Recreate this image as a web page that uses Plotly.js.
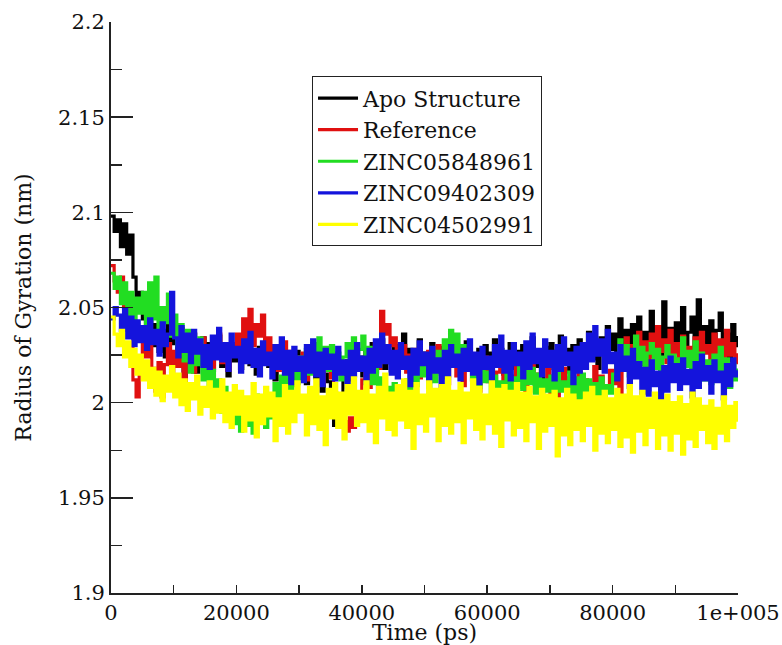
<!DOCTYPE html>
<html>
<head>
<meta charset="utf-8">
<script src="https://cdn.plot.ly/plotly-3.0.1.min.js"></script>
<style>html,body{margin:0;padding:0;background:#fff;}#chart{width:782px;height:645px;}</style>
</head>
<body>
<div id="chart"></div>
<script>
// sampling of the time axis (ps)
const T0 = 0;
const DT = 500;

const seriesNames = ["Apo Structure", "Reference", "ZINC05848961", "ZINC09402309", "ZINC04502991"];

const apo = [
2.098,2.090,2.096,2.082,2.094,2.078,2.088,2.066,2.052,2.058,
2.044,2.036,2.048,2.030,2.041,2.027,2.038,2.024,2.045,2.031,
2.033,2.022,2.039,2.002,2.030,2.025,2.036,2.016,2.028,2.034,
2.021,2.031,2.017,2.027,2.035,2.019,2.026,2.014,2.029,2.022,
2.030,2.018,2.027,2.033,2.020,2.025,2.015,2.029,2.023,2.031,
2.019,2.026,2.012,2.024,2.030,2.017,2.022,2.009,2.021,2.027,
2.016,2.023,2.010,2.019,2.026,2.013,2.020,2.006,2.015,2.011,
1.996,1.988,1.992,2.004,2.015,2.022,2.012,2.026,2.018,2.024,
2.014,2.027,2.019,2.031,2.016,2.024,2.033,2.018,2.026,2.021,
2.030,2.017,2.025,2.036,2.020,2.028,2.014,2.027,2.033,2.019,
2.026,2.015,2.031,2.022,2.018,2.029,2.013,2.025,2.034,2.020,
2.027,2.016,2.023,2.032,2.019,2.025,2.012,2.028,2.021,2.030,
2.017,2.026,2.033,2.020,2.028,2.015,2.024,2.031,2.018,2.027,
2.022,2.030,2.016,2.026,2.034,2.019,2.025,2.013,2.029,2.023,
2.031,2.018,2.027,2.035,2.021,2.028,2.016,2.030,2.024,2.033,
2.020,2.029,2.037,2.023,2.031,2.018,2.034,2.026,2.040,2.028,
2.036,2.025,2.044,2.030,2.038,2.027,2.041,2.032,2.045,2.029,
2.037,2.026,2.048,2.031,2.040,2.024,2.053,2.033,2.039,2.027,
2.042,2.030,2.050,2.028,2.037,2.045,2.026,2.054,2.032,2.040,
2.029,2.043,2.025,2.038,2.047,2.027,2.036,2.022,2.041,2.030,
2.035];

const reference = [
2.072,2.064,2.058,2.066,2.050,2.055,2.040,2.012,2.003,2.020,
2.032,2.024,2.035,2.018,2.006,2.021,2.003,2.020,2.031,2.016,
2.027,2.019,2.033,2.012,2.025,2.030,2.016,2.028,2.021,2.034,
2.023,2.030,2.018,2.027,2.036,2.021,2.029,2.017,2.031,2.025,
2.036,2.028,2.044,2.033,2.049,2.030,2.041,2.035,2.046,2.027,
2.034,2.021,2.030,2.017,2.026,2.032,2.019,2.027,2.014,2.024,
2.018,2.026,2.012,2.021,2.029,2.015,2.023,2.010,2.019,2.024,
2.013,2.005,1.996,2.002,1.990,1.985,1.992,1.987,1.995,2.003,
2.012,2.020,2.008,2.025,2.031,2.018,2.048,2.036,2.041,2.030,
2.034,2.028,2.021,2.030,2.016,2.025,2.019,2.028,2.013,2.022,
2.018,2.027,2.012,2.022,2.030,2.015,2.024,2.010,2.021,2.027,
2.014,2.023,2.009,2.019,2.026,2.012,2.020,2.006,2.017,2.024,
2.011,2.019,2.005,2.016,2.022,2.009,2.018,2.003,2.014,2.020,
2.008,2.017,2.002,2.013,2.021,2.006,2.015,2.000,2.011,2.018,
2.005,2.014,1.999,2.011,2.018,2.003,2.013,1.997,2.009,2.016,
2.004,2.012,1.998,2.010,2.019,2.002,2.014,1.996,2.008,2.017,
2.010,2.021,2.005,2.026,2.034,2.018,2.030,2.022,2.037,2.025,
2.032,2.019,2.036,2.024,2.040,2.027,2.033,2.021,2.038,2.026,
2.031,2.020,2.035,2.025,2.029,2.018,2.034,2.023,2.037,2.026,
2.030,2.019,2.036,2.024,2.033,2.020,2.038,2.025,2.031,2.021,
2.026];

const zinc05848961 = [
2.068,2.060,2.066,2.052,2.063,2.045,2.058,2.040,2.055,2.047,
2.058,2.038,2.063,2.044,2.066,2.036,2.050,2.042,2.057,2.035,
2.046,2.030,2.041,2.022,2.038,2.016,2.029,2.020,2.034,2.012,
2.022,2.006,2.017,1.998,2.012,1.995,2.008,1.992,2.004,1.989,
1.998,1.985,2.002,1.988,1.996,1.984,2.004,1.990,2.000,1.987,
2.003,1.992,2.010,1.997,2.014,2.001,2.018,2.006,2.022,2.010,
2.024,2.012,2.028,2.015,2.031,2.019,2.034,2.021,2.029,2.017,
2.030,2.018,2.026,2.012,2.024,2.031,2.016,2.034,2.021,2.028,
2.035,2.022,2.029,2.010,2.018,2.004,2.013,1.998,2.008,2.002,
2.010,1.995,2.006,1.992,2.012,2.003,2.018,2.009,2.022,2.014,
2.020,2.008,2.024,2.011,2.027,2.016,2.033,2.022,2.038,2.026,
2.036,2.024,2.030,2.017,2.025,2.012,2.021,2.008,2.018,2.011,
2.016,2.005,2.014,2.002,2.011,2.006,2.017,2.004,2.013,2.008,
2.019,2.007,2.022,2.010,2.018,2.005,2.015,2.003,2.012,2.006,
2.014,2.002,2.017,2.006,2.011,1.999,2.016,2.004,2.013,2.001,
2.015,2.003,2.012,1.998,2.010,2.004,2.013,1.999,2.009,2.005,
2.015,2.022,2.033,2.019,2.030,2.014,2.027,2.035,2.020,2.029,
2.016,2.026,2.031,2.018,2.028,2.012,2.024,2.030,2.017,2.025,
2.013,2.023,2.034,2.019,2.027,2.015,2.032,2.021,2.026,2.012,
2.022,2.010,2.025,2.017,2.029,2.014,2.023,2.008,2.020,2.012,
2.018];

const zinc09402309 = [
2.044,2.050,2.046,2.038,2.049,2.034,2.045,2.030,2.043,2.032,
2.040,2.028,2.044,2.031,2.038,2.025,2.042,2.030,2.036,2.058,
2.034,2.024,2.040,2.027,2.036,2.021,2.038,2.026,2.033,2.019,
2.030,2.018,2.035,2.023,2.039,2.022,2.031,2.017,2.036,2.024,
2.029,2.016,2.033,2.021,2.037,2.019,2.028,2.014,2.032,2.020,
2.026,2.013,2.030,2.018,2.034,2.015,2.027,2.010,2.029,2.017,
2.024,2.011,2.030,2.016,2.033,2.014,2.026,2.009,2.028,2.018,
2.025,2.012,2.029,2.015,2.022,2.008,2.027,2.014,2.031,2.017,
2.024,2.010,2.028,2.016,2.033,2.019,2.036,2.021,2.030,2.015,
2.027,2.013,2.031,2.018,2.024,2.009,2.028,2.015,2.032,2.020,
2.026,2.011,2.029,2.016,2.023,2.008,2.027,2.014,2.030,2.019,
2.025,2.012,2.028,2.017,2.033,2.015,2.026,2.010,2.029,2.018,
2.024,2.011,2.030,2.019,2.035,2.016,2.027,2.012,2.031,2.020,
2.026,2.013,2.032,2.018,2.036,2.021,2.028,2.014,2.033,2.019,
2.027,2.012,2.030,2.017,2.034,2.020,2.026,2.010,2.029,2.016,
2.031,2.018,2.036,2.022,2.040,2.025,2.033,2.016,2.038,2.021,
2.026,2.012,2.030,2.017,2.024,2.008,2.028,2.013,2.021,2.005,
2.018,2.004,2.022,2.009,2.016,2.000,2.019,2.006,2.024,2.011,
2.020,2.007,2.023,2.010,2.017,2.003,2.021,2.008,2.025,2.012,
2.019,2.005,2.022,2.011,2.016,2.002,2.020,2.009,2.023,2.014,
2.017];

const zinc04502991 = [
2.045,2.036,2.030,2.038,2.024,2.032,2.019,2.028,2.015,2.025,
2.012,2.022,2.008,2.018,2.004,2.016,2.001,2.014,2.006,2.019,
2.003,2.015,1.999,2.012,1.996,2.010,2.002,2.014,1.994,2.008,
1.998,2.011,1.992,2.007,1.995,2.012,1.990,2.005,1.987,2.009,
1.994,2.006,1.985,2.003,1.991,2.010,1.982,2.004,1.989,2.008,
1.993,2.005,1.980,2.002,1.988,2.009,1.984,2.006,1.990,2.011,
1.995,2.004,1.983,2.008,1.989,2.012,1.986,2.003,1.978,2.007,
1.992,2.010,1.987,2.005,1.981,2.009,1.994,2.013,1.988,2.006,
1.990,2.011,1.985,2.004,1.979,2.008,1.992,2.015,1.986,2.005,
1.983,2.009,1.991,2.012,1.987,2.006,1.976,2.010,1.989,2.004,
1.985,2.011,1.993,2.007,1.980,2.009,1.988,2.013,1.984,2.006,
1.990,2.010,1.979,2.005,1.992,2.012,1.986,2.008,1.981,2.004,
1.989,2.011,1.984,2.007,1.977,2.009,1.991,2.006,1.983,2.010,
1.987,2.005,1.980,2.008,1.990,2.003,1.976,2.007,1.985,2.004,
1.988,2.006,1.972,2.002,1.983,2.007,1.978,2.004,1.986,2.001,
1.980,2.005,1.988,2.008,1.975,2.003,1.984,2.006,1.979,2.002,
1.986,2.007,1.977,2.004,1.982,2.009,1.974,2.003,1.985,2.006,
1.978,2.002,1.987,2.005,1.976,2.001,1.983,2.004,1.975,2.000,
1.984,2.003,1.973,1.999,1.981,2.005,1.977,2.002,1.986,1.998,
1.979,2.001,1.976,1.997,1.984,2.003,1.980,1.998,1.987,2.000,
1.990];

const xTickVals = [0, 20000, 40000, 60000, 80000, 100000];
const xTickText = ["0", "20000", "40000", "60000", "80000", "1e+005"];
const yTickVals = [1.9, 1.95, 2.0, 2.05, 2.1, 2.15, 2.2];
const yTickText = ["1.9", "1.95", "2", "2.05", "2.1", "2.15", "2.2"];

const allSeries = [apo, reference, zinc05848961, zinc09402309, zinc04502991];
const colors = ["#000000", "#e01010", "#22dd22", "#1414dc", "#ffff00"];

const FONT = "DejaVu Serif";

const traces = allSeries.map((ys, i) => ({
  type: "scatter",
  mode: "lines",
  name: seriesNames[i],
  x0: T0,
  dx: DT,
  y: ys,
  line: {color: colors[i], width: 3.2, shape: "hv"}
}));

const layout = {
  width: 782, height: 645,
  margin: {l: 111, r: 44, t: 22, b: 52},
  paper_bgcolor: "#ffffff",
  plot_bgcolor: "#ffffff",
  showlegend: true,
  legend: {
    x: 0.3206, y: 0.905, xanchor: "left", yanchor: "top",
    bgcolor: "#ffffff", bordercolor: "#222", borderwidth: 1,
    font: {family: FONT, size: 22, color: "#111"},
    itemwidth: 40, tracegroupgap: 0
  },
  xaxis: {
    range: [0, 100000], autorange: false,
    showgrid: false, zeroline: false,
    showline: true, linecolor: "#222", linewidth: 2,
    tickmode: "array", tickvals: xTickVals, ticktext: xTickText,
    ticks: "inside", ticklen: 8, tickwidth: 1.5, tickcolor: "#222",
    minor: {tickmode: "linear", tick0: 0, dtick: 10000, ticks: "inside", ticklen: 8, tickwidth: 1.5, tickcolor: "#222", showgrid: false},
    tickfont: {family: FONT, size: 21, color: "#111"},
    title: {text: "Time (ps)", font: {family: FONT, size: 22, color: "#111"}, standoff: 0},
    automargin: false
  },
  yaxis: {
    range: [1.9, 2.2], autorange: false,
    showgrid: false, zeroline: false,
    showline: true, linecolor: "#222", linewidth: 2,
    tickmode: "array", tickvals: yTickVals, ticktext: yTickText,
    ticks: "inside", ticklen: 22, tickwidth: 1.5, tickcolor: "#222",
    minor: {tickmode: "linear", tick0: 1.9, dtick: 0.025, ticks: "inside", ticklen: 11, tickwidth: 1.5, tickcolor: "#222", showgrid: false},
    tickfont: {family: FONT, size: 21, color: "#111"},
    title: {text: "Radius of Gyration (nm)", font: {family: FONT, size: 22, color: "#111"}, standoff: 20},
    automargin: false
  }
};

Plotly.newPlot("chart", traces, layout, {displayModeBar: false, staticPlot: true});
</script>
</body>
</html>
